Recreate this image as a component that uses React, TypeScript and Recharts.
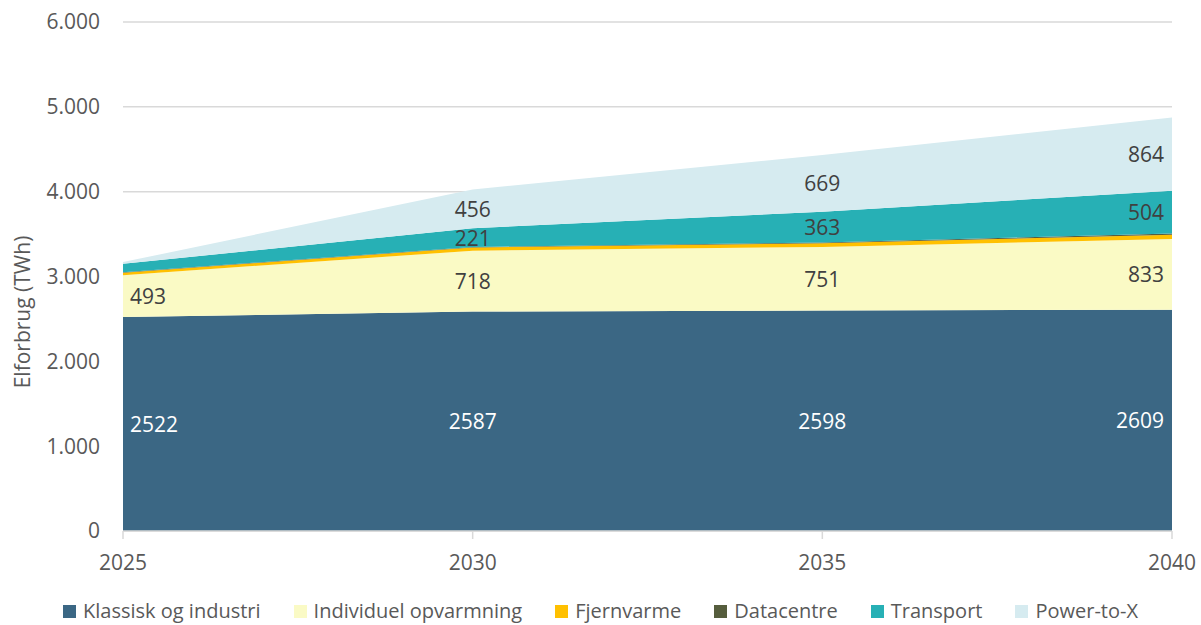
import React from 'react';
import { ComposedChart, Area, Line, XAxis, YAxis, CartesianGrid, LabelList, Label } from 'recharts';

const years = [2025, 2030, 2035, 2040];
const klassisk = [2522, 2587, 2598, 2609];
const individuel = [493, 718, 751, 833];
const fjernvarme = [30, 38, 42, 50];
const datacentre = [5, 6, 10, 15];
const transport = [100, 221, 363, 504];
const ptx = [20, 456, 669, 864];
const yTicks = [0, 1000, 2000, 3000, 4000, 5000, 6000];

const transportLabelShown = [false, true, true, true];
const ptxLabelShown = [false, true, true, true];

const series = [
  { key: 'klassisk', name: 'Klassisk og industri', color: '#3B6784' },
  { key: 'individuel', name: 'Individuel opvarmning', color: '#FAFAC5' },
  { key: 'fjernvarme', name: 'Fjernvarme', color: '#FFC000' },
  { key: 'datacentre', name: 'Datacentre', color: '#565D3D' },
  { key: 'transport', name: 'Transport', color: '#27B0B5' },
  { key: 'ptx', name: 'Power-to-X', color: '#D6EBF0' },
];

const data = years.map((year, i) => {
  const b1 = klassisk[i];
  const b2 = b1 + individuel[i];
  const b3 = b2 + fjernvarme[i] + datacentre[i];
  const b4 = b3 + transport[i];
  return {
    year,
    klassisk: klassisk[i],
    individuel: individuel[i],
    fjernvarme: fjernvarme[i],
    datacentre: datacentre[i],
    transport: transport[i],
    ptx: ptx[i],
    midKlassisk: b1 / 2,
    midIndividuel: b1 + individuel[i] / 2,
    midTransport: transportLabelShown[i] ? b3 + transport[i] / 2 : null,
    midPtx: ptxLabelShown[i] ? b4 + ptx[i] / 2 : null,
  };
});

const FONT = '"Open Sans", "DejaVu Sans", sans-serif';

const makeLabel = (values: number[], color: string) => (props: any) => {
  const { x, y, index } = props;
  if (x == null || y == null || props.value == null) return null;
  let anchor: 'start' | 'middle' | 'end' = 'middle';
  let dx = 0;
  if (index === 0) { anchor = 'start'; dx = 7; }
  if (index === years.length - 1) { anchor = 'end'; dx = -8; }
  return (
    <text x={x + dx} y={y} textAnchor={anchor} dominantBaseline="central" fill={color} fontSize={21} fontFamily={FONT}>
      {values[index]}
    </text>
  );
};

const LegendBlock = () => (
  <div style={{ position: 'absolute', left: 0, top: 599, width: 1201, display: 'flex', justifyContent: 'center', fontFamily: FONT, fontSize: 20, lineHeight: '24px', color: '#595959', whiteSpace: 'nowrap' }}>
    {series.map((s, i) => (
      <div key={s.key} style={{ display: 'flex', alignItems: 'center', marginRight: i < series.length - 1 ? 33 : 0 }}>
        <div style={{ width: 13, height: 13, background: s.color, marginRight: 7 }} />
        <span>{s.name}</span>
      </div>
    ))}
  </div>
);

export default function App() {
  return (
    <div style={{ position: 'absolute', left: 0, top: 0, width: 1201, height: 625, background: '#fff', overflow: 'hidden' }}>
      <ComposedChart width={1201} height={625} data={data} margin={{ top: 22, right: 29, bottom: 64, left: 0 }}>
        <CartesianGrid vertical={false} stroke="#D9D9D9" strokeWidth={1.5} />
        <XAxis
          dataKey="year"
          type="number"
          domain={[2025, 2040]}
          ticks={years}
          height={30}
          stroke="#D9D9D9"
          strokeWidth={1.5}
          tickSize={8}
          tickMargin={16}
          tick={{ fill: '#595959', fontSize: 21, fontFamily: FONT }}
        />
        <YAxis
          width={123}
          domain={[0, 6000]}
          ticks={yTicks}
          axisLine={false}
          tickLine={false}
          tickSize={0}
          tickMargin={23}
          tickFormatter={(v: number) => v.toLocaleString('da-DK')}
          tick={{ fill: '#595959', fontSize: 21, fontFamily: FONT }}
        >
          <Label
            content={() => (
              <text x={22} y={312} transform="rotate(-90 22 312)" textAnchor="middle" dominantBaseline="central" fill="#595959" fontSize={21} fontFamily={FONT}>
                Elforbrug (TWh)
              </text>
            )}
          />
        </YAxis>
        {series.map((s) => (
          <Area
            key={s.key}
            type="linear"
            dataKey={s.key}
            name={s.name}
            stackId="a"
            fill={s.color}
            fillOpacity={1}
            stroke="none"
            isAnimationActive={false}
          />
        ))}
        <Line dataKey="midKlassisk" stroke="none" dot={false} activeDot={false} legendType="none" isAnimationActive={false}>
          <LabelList dataKey="midKlassisk" content={makeLabel(klassisk, '#FFFFFF')} />
        </Line>
        <Line dataKey="midIndividuel" stroke="none" dot={false} activeDot={false} legendType="none" isAnimationActive={false}>
          <LabelList dataKey="midIndividuel" content={makeLabel(individuel, '#404040')} />
        </Line>
        <Line dataKey="midTransport" stroke="none" dot={false} activeDot={false} legendType="none" isAnimationActive={false}>
          <LabelList dataKey="midTransport" content={makeLabel(transport, '#404040')} />
        </Line>
        <Line dataKey="midPtx" stroke="none" dot={false} activeDot={false} legendType="none" isAnimationActive={false}>
          <LabelList dataKey="midPtx" content={makeLabel(ptx, '#404040')} />
        </Line>
      </ComposedChart>
      <LegendBlock />
    </div>
  );
}
